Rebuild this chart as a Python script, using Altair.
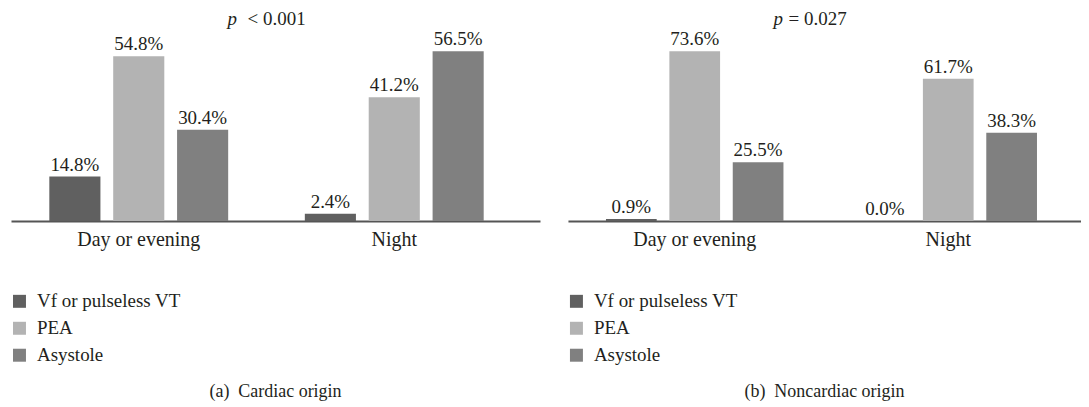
import altair as alt
import pandas as pd

periods = ["Day or evening", "Night"]
rhythms = ["Vf or pulseless VT", "PEA", "Asystole"]
colors = ["#606060", "#b3b3b3", "#808080"]

cardiac_day = [14.8, 54.8, 30.4]
cardiac_night = [2.4, 41.2, 56.5]
noncardiac_day = [0.9, 73.6, 25.5]
noncardiac_night = [0.0, 61.7, 38.3]

FONT = "Liberation Serif"
TXT = "#231f20"


def panel(day, night, ymax, width, pad_outer, caption, p_rest, p_x, rest_x):
    df = pd.DataFrame({
        "period": [periods[0]] * 3 + [periods[1]] * 3,
        "rhythm": rhythms * 2,
        "value": day + night,
    })
    df["label"] = [f"{v:.1f}%" for v in df["value"]]

    x = alt.X("period:N", sort=periods, title=None,
              scale=alt.Scale(paddingInner=0, paddingOuter=pad_outer, align=0),
              axis=alt.Axis(labelAngle=0, ticks=False, domainColor="#555555",
                            domainWidth=2, labelFont=FONT, labelFontSize=20,
                            labelColor=TXT, labelPadding=9))
    xo = alt.XOffset("rhythm:N", sort=rhythms,
                     scale=alt.Scale(paddingInner=0.2, paddingOuter=0.6))
    y = alt.Y("value:Q", scale=alt.Scale(domain=[0, ymax]), axis=None)

    base = alt.Chart(df)
    bars = base.mark_bar().encode(
        x=x, xOffset=xo, y=y,
        color=alt.Color("rhythm:N", sort=rhythms,
                        scale=alt.Scale(domain=rhythms, range=colors),
                        legend=alt.Legend(title=None, orient="none", legendX=-1,
                                          legendY=284, symbolType="square",
                                          symbolSize=169, symbolStrokeWidth=0,
                                          labelFont=FONT, labelFontSize=19,
                                          labelColor=TXT, rowPadding=7,
                                          padding=0, labelOffset=8)),
    )
    labels = base.mark_text(dy=-6, baseline="alphabetic", font=FONT,
                            fontSize=19, color=TXT).encode(
        x=x, xOffset=xo, y=y, text="label:N")

    pdf = pd.DataFrame({"p": ["p"], "rest": [p_rest]})
    pt = alt.Chart(pdf).mark_text(align="left", baseline="alphabetic", font=FONT,
                                  fontSize=19, fontStyle="italic", color=TXT).encode(
        x=alt.value(p_x), y=alt.value(17), text="p:N")
    rt = alt.Chart(pdf).mark_text(align="left", baseline="alphabetic", font=FONT,
                                  fontSize=19, color=TXT).encode(
        x=alt.value(rest_x), y=alt.value(17), text="rest:N")

    return alt.layer(bars, labels, pt, rt).properties(
        width=width, height=213,
        title=alt.TitleParams(caption, orient="bottom", anchor="middle",
                              font=FONT, fontSize=18, fontWeight="normal",
                              color=TXT, offset=17),
    )


left = panel(cardiac_day, cardiac_night, 70.77, 530, 0.0352,
             "(a)\u00a0\u00a0Cardiac origin", "< 0.001", 217, 237)
right = panel(noncardiac_day, noncardiac_night, 92.2, 514, 0.0118,
              "(b)\u00a0\u00a0Noncardiac origin", "= 0.027", 206, 221)

chart = alt.hconcat(left, right, spacing=27).resolve_scale(
    x="independent", y="independent", color="independent", xOffset="independent"
).resolve_legend(color="independent").properties(
    padding={"left": 2, "top": 0, "right": 0, "bottom": 0}
).configure_view(stroke=None)

chart.save("out.html", embed_options={"renderer": "svg", "actions": False})
